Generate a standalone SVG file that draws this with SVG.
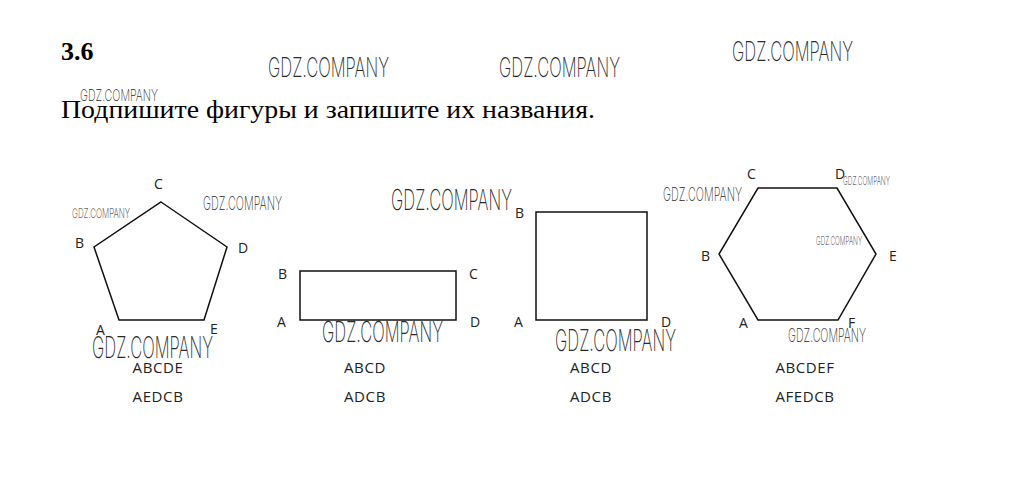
<svg xmlns="http://www.w3.org/2000/svg" width="1036" height="480" viewBox="0 0 1036 480">
<style>
.t{font-family:"Liberation Serif",serif;fill:#000}
.lb{font-family:"Open Sans","DejaVu Sans",sans-serif;font-size:14px;fill:#222}
.nm{font-family:"Open Sans","DejaVu Sans",sans-serif;font-size:15px;fill:#222;text-anchor:middle;letter-spacing:0.6px}
.wm{font-family:Inter,"DejaVu Sans",sans-serif;fill:#2a2a2a;font-weight:200}
.sh{fill:none;stroke:#111;stroke-width:1.5;stroke-linejoin:miter}
</style>
<rect width="1036" height="480" fill="#fff"/>
<text class="t" x="61" y="60" font-size="26" font-weight="bold">3.6</text>
<text class="t" x="61" y="118" font-size="26" textLength="534" lengthAdjust="spacingAndGlyphs">Подпишите фигуры и запишите их названия.</text>

<g id="watermarks">
<text class="wm" x="268" y="77" font-size="27" textLength="121" lengthAdjust="spacingAndGlyphs">GDZ.COMPANY</text>
<text class="wm" x="499" y="77" font-size="27" textLength="121" lengthAdjust="spacingAndGlyphs">GDZ.COMPANY</text>
<text class="wm" x="732" y="61" font-size="27" textLength="121" lengthAdjust="spacingAndGlyphs">GDZ.COMPANY</text>
<text class="wm" x="80" y="101" font-size="16" textLength="78" lengthAdjust="spacingAndGlyphs">GDZ.COMPANY</text>
<text class="wm" x="72" y="218" font-size="13" textLength="58" lengthAdjust="spacingAndGlyphs">GDZ.COMPANY</text>
<text class="wm" x="203" y="210" font-size="19" textLength="79" lengthAdjust="spacingAndGlyphs">GDZ.COMPANY</text>
<text class="wm" x="92" y="358" font-size="30" textLength="121" lengthAdjust="spacingAndGlyphs">GDZ.COMPANY</text>
<text class="wm" x="391" y="210" font-size="29" textLength="121" lengthAdjust="spacingAndGlyphs">GDZ.COMPANY</text>
<text class="wm" x="322" y="342" font-size="29" textLength="121" lengthAdjust="spacingAndGlyphs">GDZ.COMPANY</text>
<text class="wm" x="663" y="201" font-size="19" textLength="79" lengthAdjust="spacingAndGlyphs">GDZ.COMPANY</text>
<text class="wm" x="555" y="351" font-size="30" textLength="121" lengthAdjust="spacingAndGlyphs">GDZ.COMPANY</text>
<text class="wm" x="843" y="185" font-size="12" textLength="47" lengthAdjust="spacingAndGlyphs">GDZ.COMPANY</text>
<text class="wm" x="816" y="245" font-size="12" textLength="46" lengthAdjust="spacingAndGlyphs">GDZ.COMPANY</text>
<text class="wm" x="788" y="342" font-size="19" textLength="78" lengthAdjust="spacingAndGlyphs">GDZ.COMPANY</text>
</g>

<g id="pentagon">
<polygon class="sh" points="161,202 227,247 204,320 119,320 94,247"/>
<text class="lb" x="154" y="189">C</text>
<text class="lb" x="75" y="248">B</text>
<text class="lb" x="238" y="253">D</text>
<text class="lb" x="96" y="335">A</text>
<text class="lb" x="210" y="334">E</text>
<text class="nm" x="158" y="373">ABCDE</text>
<text class="nm" x="158" y="402">AEDCB</text>
</g>

<g id="rectangle">
<rect class="sh" x="300" y="271" width="156" height="49" stroke-width="2"/>
<text class="lb" x="278" y="279">B</text>
<text class="lb" x="469" y="279">C</text>
<text class="lb" x="277" y="327">A</text>
<text class="lb" x="470" y="327">D</text>
<text class="nm" x="365" y="373">ABCD</text>
<text class="nm" x="365" y="402">ADCB</text>
</g>

<g id="square">
<rect class="sh" x="536" y="212" width="111" height="108" stroke-width="2"/>
<text class="lb" x="515" y="218">B</text>
<text class="lb" x="514" y="327">A</text>
<text class="lb" x="661" y="327">D</text>
<text class="nm" x="591" y="373">ABCD</text>
<text class="nm" x="591" y="402">ADCB</text>
</g>

<g id="hexagon">
<polygon class="sh" points="758,188 837,188 876,254 838,320 758,320 719,254"/>
<text class="lb" x="747" y="179">C</text>
<text class="lb" x="835" y="179">D</text>
<text class="lb" x="701" y="261">B</text>
<text class="lb" x="889" y="261">E</text>
<text class="lb" x="739" y="328">A</text>
<text class="lb" x="848" y="328">F</text>
<text class="nm" x="805" y="373">ABCDEF</text>
<text class="nm" x="805" y="402">AFEDCB</text>
</g>
<g id="connectors"/>
</svg>
